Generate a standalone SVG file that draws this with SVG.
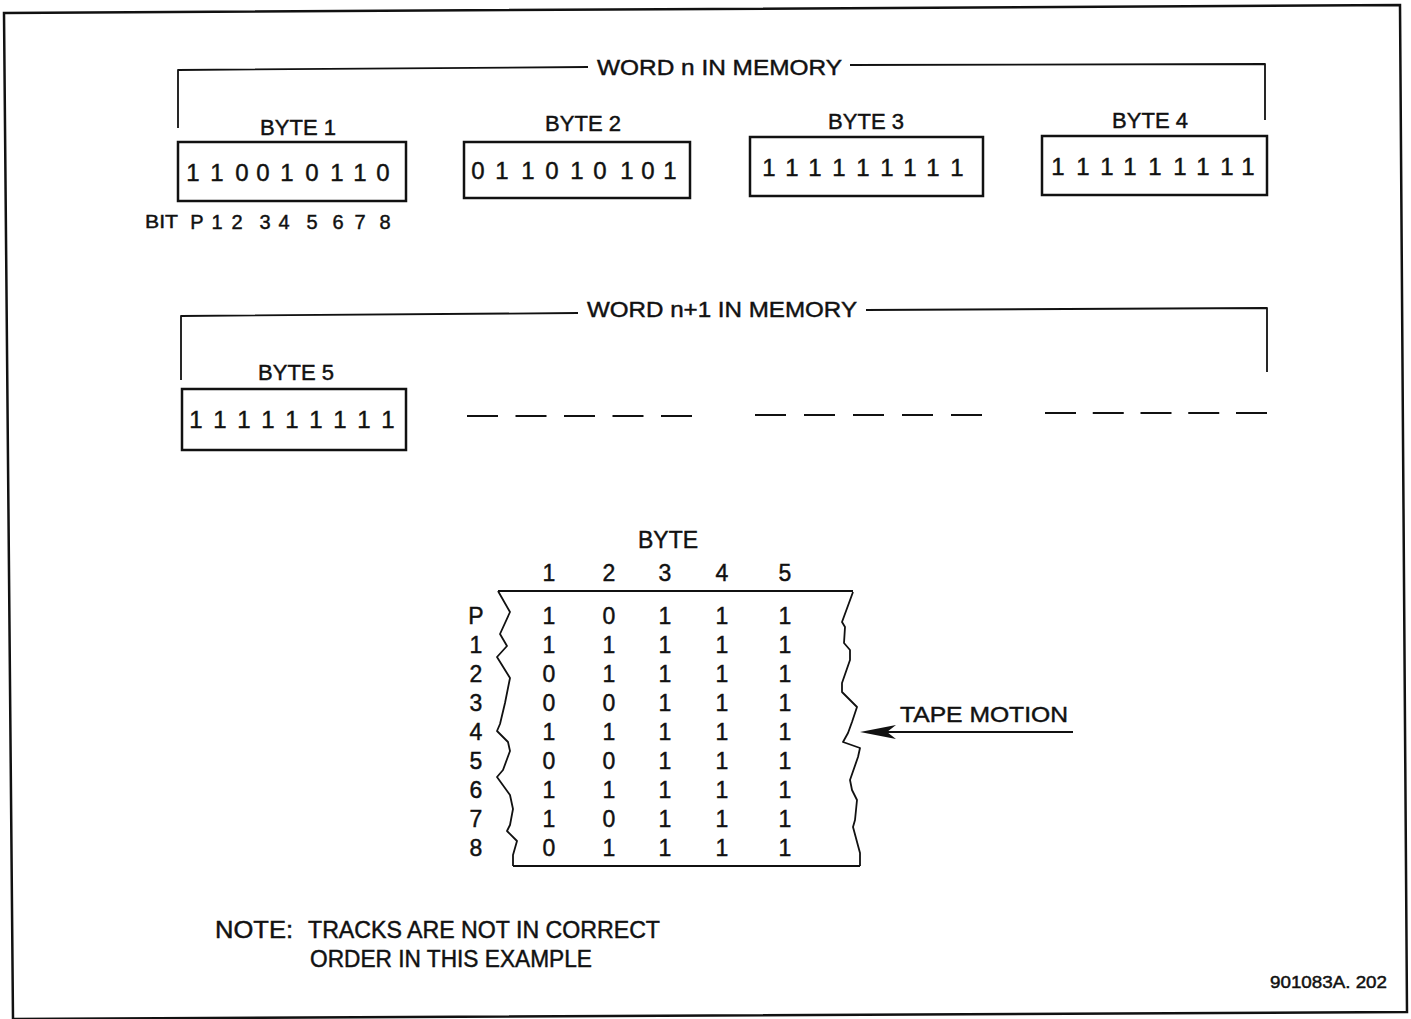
<svg xmlns="http://www.w3.org/2000/svg" width="1411" height="1019" viewBox="0 0 1411 1019">
<style>
text{font-family:"Liberation Sans",Arial,sans-serif;fill:#111;stroke:#111;stroke-width:0.45}
.lbl{font-size:22px;text-anchor:middle}
.dig{font-size:24px;text-anchor:middle}
.tab{font-size:23px;text-anchor:middle}
.txt{font-size:22px}
.box{fill:none;stroke:#111;stroke-width:2.5}
.ln{fill:none;stroke:#111;stroke-width:1.8;stroke-linejoin:round}
.dash{fill:none;stroke:#111;stroke-width:2}
</style>
<rect width="1411" height="1019" fill="#fff"/>
<polygon points="4,13 1400,5 1407,1012 13,1019" fill="none" stroke="#111" stroke-width="2.5"/>

<g id="connectors">
  <g id="word-n-bracket">
    <polyline class="ln" points="178,128 178,70 588,67"/>
    <polyline class="ln" points="850,65 1265,64 1265,120"/>
  </g>
  <g id="word-n1-bracket">
    <polyline class="ln" points="181,380 181,316 578,313"/>
    <polyline class="ln" points="866,310 1267,308 1267,372"/>
  </g>
  <g id="dashes">
    <line class="dash" x1="467" y1="416" x2="692" y2="416" stroke-dasharray="31 17.5"/>
    <line class="dash" x1="755" y1="415" x2="982" y2="415" stroke-dasharray="31 18"/>
    <line class="dash" x1="1045" y1="413" x2="1267" y2="413" stroke-dasharray="31 16.75"/>
  </g>
  <g id="tape-motion-arrow">
    <line class="ln" x1="886" y1="732" x2="1073" y2="732"/>
    <path d="M860,732 L896,725 L887,732 L896,739 Z" fill="#111"/>
  </g>
</g>

<g id="word-n-label"><text class="txt" x="597" y="75" textLength="245" lengthAdjust="spacingAndGlyphs">WORD n IN MEMORY</text></g>
<g id="word-n1-label"><text class="txt" x="587" y="317" textLength="270" lengthAdjust="spacingAndGlyphs">WORD n+1 IN MEMORY</text></g>

<g id="byte1">
  <text class="lbl" x="298" y="135">BYTE 1</text>
  <rect class="box" x="178" y="142" width="228" height="59"/>
  <text class="dig" x="193 217 242 263 287 312 337 360 383" y="181">110010110</text>
</g>
<g id="bit-labels">
  <text x="145" y="228" font-size="19" textLength="33" lengthAdjust="spacingAndGlyphs">BIT</text>
  <text font-size="20" text-anchor="middle" x="197 217 237 265 284 312 338 360 385" y="229">P12345678</text>
</g>
<g id="byte2">
  <text class="lbl" x="583" y="131">BYTE 2</text>
  <rect class="box" x="464" y="142" width="226" height="56"/>
  <text class="dig" x="478 502 528 552 577 600 627 648 670" y="179">011010101</text>
</g>
<g id="byte3">
  <text class="lbl" x="866" y="129">BYTE 3</text>
  <rect class="box" x="750" y="137" width="233" height="59"/>
  <text class="dig" x="769 792 815 839 863 887 910 933 957" y="176">111111111</text>
</g>
<g id="byte4">
  <text class="lbl" x="1150" y="128">BYTE 4</text>
  <rect class="box" x="1042" y="136" width="225" height="59"/>
  <text class="dig" x="1058 1083 1107 1130 1155 1180 1203 1227 1248" y="175">111111111</text>
</g>
<g id="byte5">
  <text class="lbl" x="296" y="380">BYTE 5</text>
  <rect class="box" x="182" y="389" width="224" height="61"/>
  <text class="dig" x="196 220 244 268 292 316 340 364 388" y="428">111111111</text>
</g>

<g id="tape">
  <text class="tab" x="668" y="548">BYTE</text>
  <text class="tab" x="549 609 665 722 785" y="581">12345</text>
  <line class="ln" x1="498" y1="591" x2="853" y2="591" stroke-width="2.2"/>
  <line class="ln" x1="513" y1="866" x2="860" y2="866" stroke-width="2.2"/>
  <polyline class="ln" points="498,591 510,612 500,634 507,646 497,657 510,678 505,703 500,724 497,731 508,742 510,751 503,770 497,777 510,795 513,809 510,825 507,831 517,841 513,855 513,866"/>
  <polyline class="ln" points="853,592 842,622 845,627 844,643 850,650 850,660 842,683 842,692 857,707 852,722 848,733 843,742 860,748 858,757 850,780 852,790 857,800 855,820 853,827 860,853 860,866"/>
  <g class="tab">
    <text x="476" y="624">P</text>
    <text x="476" y="653">1</text>
    <text x="476" y="682">2</text>
    <text x="476" y="711">3</text>
    <text x="476" y="740">4</text>
    <text x="476" y="769">5</text>
    <text x="476" y="798">6</text>
    <text x="476" y="827">7</text>
    <text x="476" y="856">8</text>
    <text x="549 609 665 722 785" y="624">10111</text>
    <text x="549 609 665 722 785" y="653">11111</text>
    <text x="549 609 665 722 785" y="682">01111</text>
    <text x="549 609 665 722 785" y="711">00111</text>
    <text x="549 609 665 722 785" y="740">11111</text>
    <text x="549 609 665 722 785" y="769">00111</text>
    <text x="549 609 665 722 785" y="798">11111</text>
    <text x="549 609 665 722 785" y="827">10111</text>
    <text x="549 609 665 722 785" y="856">01111</text>
  </g>
</g>

<g id="tape-motion-label"><text class="txt" font-size="23" x="900" y="722" textLength="168" lengthAdjust="spacingAndGlyphs">TAPE MOTION</text></g>

<g id="note">
  <text font-size="23" x="215" y="938" textLength="78" lengthAdjust="spacingAndGlyphs">NOTE:</text>
  <text font-size="23" x="308" y="938" textLength="352" lengthAdjust="spacingAndGlyphs">TRACKS ARE NOT IN CORRECT</text>
  <text font-size="23" x="310" y="967" textLength="282" lengthAdjust="spacingAndGlyphs">ORDER IN THIS EXAMPLE</text>
</g>
<g id="ref"><text font-size="16" x="1270" y="988" textLength="117" lengthAdjust="spacingAndGlyphs">901083A. 202</text></g>
</svg>
